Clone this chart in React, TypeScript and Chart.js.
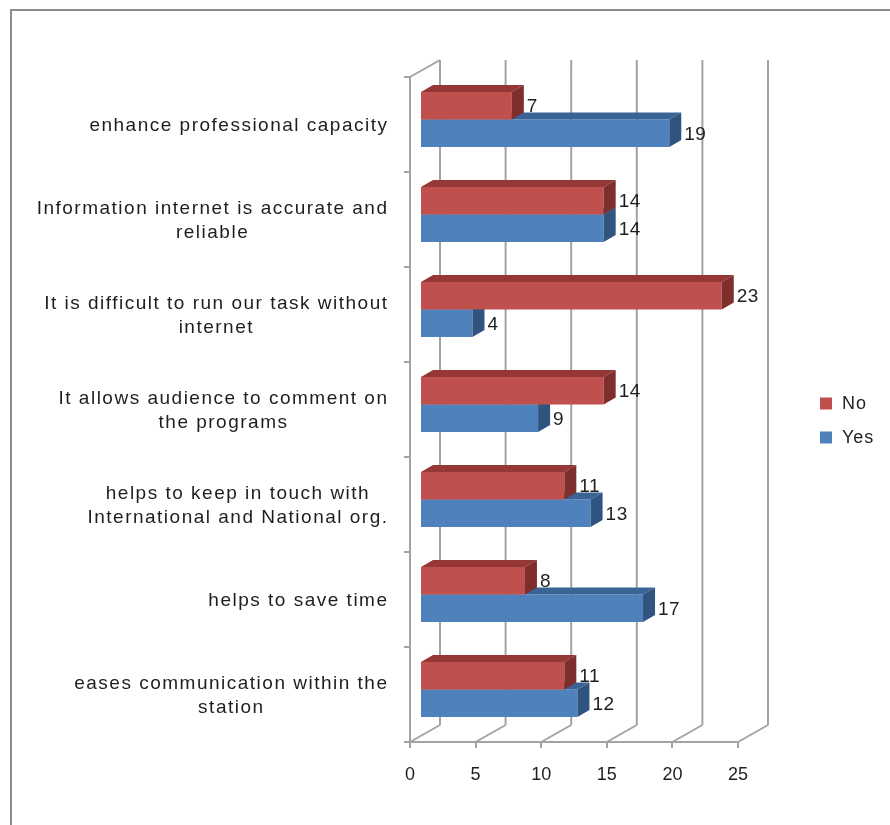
import React, { useEffect, useRef } from "react";
import { Chart, registerables } from "chart.js";

Chart.register(...registerables);

// Survey statements (top to bottom), one array entry per wrapped line
const categories: string[][] = [
  ["enhance professional capacity"],
  ["Information internet is accurate and", "reliable"],
  ["It is difficult to run our task without", "internet"],
  ["It allows audience to comment on", "the programs"],
  ["helps to keep in touch with", "International and National org."],
  ["helps to save time"],
  ["eases communication within the", "station"],
];
const seriesNames = ["No", "Yes"];
const noValues = [7, 14, 23, 14, 11, 8, 11];
const yesValues = [19, 14, 4, 9, 13, 17, 12];
const xTicks = [0, 5, 10, 15, 20, 25];

// Face colours for the 3D boxes: front / top / side
const palette = [
  { front: "#C0504D", top: "#953735", side: "#7E2F2D" },
  { front: "#4F81BD", top: "#3B6496", side: "#2F5480" },
];

const GRID = "#a3a3a3";
const TEXT = "#1e1e1e";
const FONT = "'Liberation Sans', Arial, sans-serif";

// Perspective offsets
const WALL_DX = 30;
const WALL_DY = -17;
const BAR_DX = 10;
const BAR_DY = -5;
const DEPTH_DX = 12;
const DEPTH_DY = -7;

const threeD = {
  id: "threeD",
  beforeDraw(chart: any) {
    const { ctx, width, height } = chart;
    ctx.save();
    ctx.fillStyle = "#ffffff";
    ctx.fillRect(0, 0, width, height);
    // outer frame (left and top edges)
    ctx.fillStyle = "#8c8c8c";
    ctx.fillRect(10, 9, 2, height - 9);
    ctx.fillRect(10, 9, width - 10, 2);
    ctx.restore();
  },
  beforeDatasetsDraw(chart: any) {
    const { ctx, chartArea: a, scales } = chart;
    const xs = scales.x;
    ctx.save();
    ctx.strokeStyle = GRID;
    ctx.lineWidth = 2;
    ctx.beginPath();
    xTicks.forEach((v) => {
      const px = xs.getPixelForValue(v);
      // back wall gridline
      ctx.moveTo(px + WALL_DX, a.top + WALL_DY);
      ctx.lineTo(px + WALL_DX, a.bottom + WALL_DY);
      // floor line
      ctx.moveTo(px, a.bottom);
      ctx.lineTo(px + WALL_DX, a.bottom + WALL_DY);
    });
    // side wall top edge
    ctx.moveTo(a.left, a.top);
    ctx.lineTo(a.left + WALL_DX, a.top + WALL_DY);
    ctx.stroke();
    ctx.restore();

    // bars sit a little behind the front plane
    ctx.save();
    ctx.translate(BAR_DX, BAR_DY);
  },
  afterDatasetDraw(chart: any, args: any) {
    const ctx = chart.ctx;
    const c = palette[args.index];
    args.meta.data.forEach((bar: any) => {
      const { x, y, base, height } = bar.getProps(["x", "y", "base", "height"], true);
      const top = y - height / 2;
      const bottom = y + height / 2;
      ctx.fillStyle = c.top;
      ctx.beginPath();
      ctx.moveTo(base, top);
      ctx.lineTo(base + DEPTH_DX, top + DEPTH_DY);
      ctx.lineTo(x + DEPTH_DX, top + DEPTH_DY);
      ctx.lineTo(x, top);
      ctx.closePath();
      ctx.fill();
      ctx.fillStyle = c.side;
      ctx.beginPath();
      ctx.moveTo(x, top);
      ctx.lineTo(x + DEPTH_DX, top + DEPTH_DY);
      ctx.lineTo(x + DEPTH_DX, bottom + DEPTH_DY);
      ctx.lineTo(x, bottom);
      ctx.closePath();
      ctx.fill();
    });
  },
  afterDatasetsDraw(chart: any) {
    const ctx = chart.ctx;
    ctx.restore();

    // value labels
    ctx.save();
    ctx.font = `19px ${FONT}`;
    (ctx as any).letterSpacing = "0.5px";
    ctx.fillStyle = TEXT;
    ctx.textAlign = "left";
    ctx.textBaseline = "middle";
    chart.data.datasets.forEach((ds: any, di: number) => {
      const meta = chart.getDatasetMeta(di);
      meta.data.forEach((bar: any, i: number) => {
        const { x, y } = bar.getProps(["x", "y"], true);
        ctx.fillText(String(ds.data[i]), x + BAR_DX + DEPTH_DX + 3, y + BAR_DY + 1);
      });
    });
    ctx.restore();
  },
  afterDraw(chart: any) {
    const { ctx, chartArea: a, scales } = chart;
    const ys = scales.y;

    // category labels: block right-aligned to the axis, lines centred
    ctx.save();
    ctx.font = `19px ${FONT}`;
    (ctx as any).letterSpacing = "1.5px";
    ctx.fillStyle = TEXT;
    ctx.textAlign = "center";
    ctx.textBaseline = "middle";
    const right = a.left - 23;
    const lineH = 24;
    (chart.data.labels as string[][]).forEach((lines, i) => {
      const cy = ys.getPixelForValue(i) + 1;
      const w = Math.max(...lines.map((l) => ctx.measureText(l).width - 1.5));
      const cx = right - w / 2;
      lines.forEach((l, k) => {
        const ly = cy + (k - (lines.length - 1) / 2) * lineH;
        ctx.fillText(l, cx + 0.75, ly);
      });
    });
    ctx.restore();

    // legend
    ctx.save();
    ctx.font = `18px ${FONT}`;
    (ctx as any).letterSpacing = "1px";
    ctx.textAlign = "left";
    ctx.textBaseline = "middle";
    const mid = (a.top + a.bottom) / 2 - 6;
    chart.data.datasets.forEach((ds: any, i: number) => {
      const cy = mid + i * 34;
      ctx.fillStyle = palette[i].front;
      ctx.fillRect(820, cy - 6, 12, 12);
      ctx.fillStyle = TEXT;
      ctx.fillText(ds.label, 842, cy + 1);
    });
    ctx.restore();
  },
};

export default function App() {
  const ref = useRef<HTMLCanvasElement>(null);

  useEffect(() => {
    document.body.style.margin = "0";
    const canvas = ref.current!;
    const chart = new Chart(canvas, {
      type: "bar",
      data: {
        labels: categories as any,
        datasets: [
          {
            label: seriesNames[0],
            data: noValues,
            backgroundColor: palette[0].front,
            borderWidth: 0,
            categoryPercentage: 0.58,
            barPercentage: 1,
            clip: false as any,
          },
          {
            label: seriesNames[1],
            data: yesValues,
            backgroundColor: palette[1].front,
            borderWidth: 0,
            categoryPercentage: 0.58,
            barPercentage: 1,
            clip: false as any,
          },
        ],
      },
      options: {
        indexAxis: "y",
        responsive: false,
        animation: false,
        devicePixelRatio: 1,
        layout: { padding: { top: 77, right: 152, bottom: 0, left: 0 } },
        plugins: {
          legend: { display: false },
          tooltip: { enabled: false },
        },
        scales: {
          x: {
            type: "linear",
            min: 0,
            max: 25,
            afterFit: (s: any) => {
              s.height = 83;
            },
            afterBuildTicks: (s: any) => {
              s.ticks = xTicks.map((v) => ({ value: v }));
            },
            ticks: {
              font: { family: FONT, size: 18 },
              color: TEXT,
              padding: 16,
            },
            grid: {
              drawOnChartArea: false,
              drawTicks: true,
              tickLength: 6,
              color: GRID,
              lineWidth: 2,
            },
            border: { display: true, color: GRID, width: 2 },
          },
          y: {
            type: "category",
            afterFit: (s: any) => {
              s.width = 410;
            },
            ticks: { display: false },
            grid: {
              drawOnChartArea: false,
              drawTicks: true,
              tickLength: 6,
              color: GRID,
              lineWidth: 2,
            },
            border: { display: true, color: GRID, width: 2 },
          },
        },
      },
      plugins: [threeD],
    });
    return () => chart.destroy();
  }, []);

  return (
    <canvas
      ref={ref}
      width={890}
      height={825}
      style={{ display: "block", width: 890, height: 825 }}
    />
  );
}
